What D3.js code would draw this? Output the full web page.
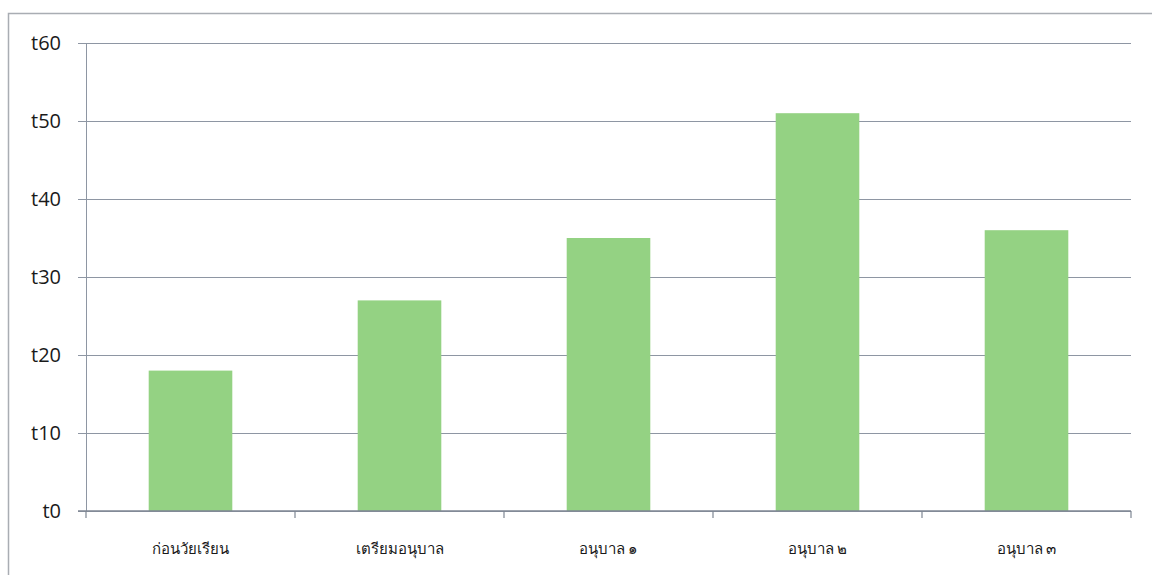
<!DOCTYPE html>
<html>
<head>
<meta charset="utf-8">
<script src="https://cdn.jsdelivr.net/npm/d3@7"></script>
<style>
  body { margin: 0; background: #fff; }
</style>
</head>
<body>
<div id="chart"></div>
<script>
// data
var categories = ['ก่อนวัยเรียน', 'เตรียมอนุบาล', 'อนุบาล ๑', 'อนุบาล ๒', 'อนุบาล ๓'];
var values = [18, 27, 35, 51, 36];
var tick_values = [0, 10, 20, 30, 40, 50, 60];
var tick_labels = ['t0', 't10', 't20', 't30', 't40', 't50', 't60'];

var width = 1152, height = 575;
var margin = {left: 86, right: 21, top: 43, bottom: 64};

var svg = d3.select('#chart').append('svg')
    .attr('width', width).attr('height', height);

// outer frame
svg.append('rect')
    .attr('x', 8.5).attr('y', 13.5)
    .attr('width', width).attr('height', height)
    .attr('fill', 'none')
    .attr('stroke', '#a9adb3').attr('stroke-width', 1.5);

var x = d3.scaleBand()
    .domain(categories)
    .range([margin.left, width - margin.right])
    .paddingInner(0.6).paddingOuter(0.3);

var y = d3.scaleLinear()
    .domain([0, 60])
    .range([height - margin.bottom, margin.top]);

// gridlines + y labels
var yAxis = svg.append('g')
    .attr('transform', 'translate(' + margin.left + ',0)')
    .call(d3.axisLeft(y)
        .tickValues(tick_values)
        .tickSize(-(width - margin.left - margin.right))
        .tickSizeOuter(0)
        .tickPadding(25)
        .tickFormat(function(d, i) { return tick_labels[i]; }));
yAxis.select('.domain').attr('stroke', '#8e96a3');
yAxis.selectAll('.tick line')
    .attr('stroke', '#8e96a3').attr('stroke-width', 1.2)
    .attr('x1', -8);
yAxis.selectAll('.tick text')
    .attr('fill', '#1a1a1a')
    .attr('font-family', 'Open Sans, sans-serif')
    .attr('font-size', '20px');

// bars
svg.selectAll('rect.bar')
    .data(values).enter().append('rect')
    .attr('class', 'bar')
    .attr('x', function(d, i) { return x(categories[i]); })
    .attr('width', x.bandwidth())
    .attr('y', function(d) { return y(d); })
    .attr('height', function(d) { return y(0) - y(d); })
    .attr('fill', '#94d283');

// x axis with ticks at category boundaries
var step = x.step();
var boundaries = categories.map(function(c) { return x(c) - step * 0.3; });
boundaries.push(width - margin.right);
var xb = svg.append('g');
xb.append('line')
    .attr('x1', margin.left - 8).attr('x2', width - margin.right)
    .attr('y1', y(0)).attr('y2', y(0))
    .attr('stroke', '#7e8693').attr('stroke-width', 1.4);
xb.selectAll('line.tk')
    .data(boundaries).enter().append('line')
    .attr('class', 'tk')
    .attr('x1', function(d) { return d; }).attr('x2', function(d) { return d; })
    .attr('y1', y(0)).attr('y2', y(0) + 7)
    .attr('stroke', '#7e8693').attr('stroke-width', 1.2);

xb.selectAll('text')
    .data(categories).enter().append('text')
    .attr('x', function(d) { return x(d) + x.bandwidth() / 2; })
    .attr('y', y(0) + 43)
    .attr('text-anchor', 'middle')
    .attr('fill', '#1a1a1a')
    .attr('font-family', 'Noto Sans, sans-serif')
    .attr('font-size', '15px')
    .text(function(d) { return d; });
</script>
</body>
</html>
